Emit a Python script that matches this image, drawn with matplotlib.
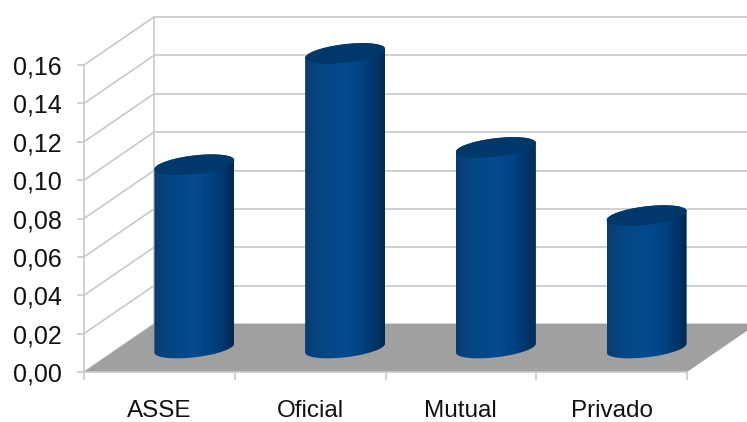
import numpy as np
import matplotlib
matplotlib.use("Agg")
import matplotlib.pyplot as plt
from matplotlib.colors import LinearSegmentedColormap
from matplotlib.patches import Polygon, PathPatch
from matplotlib.path import Path

categories = ["ASSE", "Oficial", "Mutual", "Privado"]
values = [0.0955, 0.1535, 0.1045, 0.069]
y_ticks = [0.00, 0.02, 0.04, 0.06, 0.08, 0.10, 0.12, 0.14, 0.16]

W, H = 747, 422
GRID = "#c9c9c9"
FLOOR = "#a0a0a0"
TOP_COLOR = "#00386c"

plt.rcParams["font.family"] = ["Liberation Sans", "DejaVu Sans"]

fig = plt.figure(figsize=(W / 100, H / 100), dpi=100, facecolor="white")
# front plane of the 3D box: x 84-687 px, y 65-372 px from the top
ax = fig.add_axes([84 / W, 1 - 372 / H, (687 - 84) / W, (372 - 65) / H])
ax.patch.set_visible(False)

px_x = len(categories) / (687 - 84)        # data units per pixel
px_y = y_ticks[-1] / (372 - 65)
depth_x = 70 * px_x
depth_y = 48 * px_y
x_max = len(categories) + depth_x

# back wall and side wall lines
for v in y_ticks:
    ax.plot([depth_x, x_max], [v + depth_y] * 2, color=GRID, lw=1.2, clip_on=False, zorder=1)
    ax.plot([0, depth_x], [v, v + depth_y], color=GRID, lw=1.2, clip_on=False, zorder=1)
ax.plot([depth_x, depth_x], [depth_y, y_ticks[-1] + depth_y], color=GRID, lw=1.2, clip_on=False, zorder=1)

# floor
ax.add_patch(Polygon([(0, 0), (len(categories), 0), (x_max, depth_y), (depth_x, depth_y)],
                     closed=True, fc=FLOOR, ec="none", clip_on=False, zorder=2))

# shading across each cylinder body
shade = LinearSegmentedColormap.from_list(
    "cyl", [(0, "#0b3c72"), (0.12, "#05437e"), (0.48, "#024c90"),
            (0.75, "#004080"), (0.92, "#003163"), (1, "#002850")])
gradient = np.linspace(0, 1, 256).reshape(1, -1)

half_w = 40 * px_x
tilt = 4.5 * px_y
minor = 9.3 * px_y
base = 0.5 * depth_y

for i, v in enumerate(values):
    # cylinders stand halfway into the box depth
    cx = i + 0.5 + 0.5 * depth_x
    top = v + base

    # lower half of the base ellipse, then upper half of the top ellipse
    t_low = np.linspace(np.pi, 2 * np.pi, 60)
    t_up = np.linspace(0, np.pi, 60)
    low = np.column_stack([cx + half_w * np.cos(t_low),
                           base + tilt * np.cos(t_low) + minor * np.sin(t_low)])
    up = np.column_stack([cx + half_w * np.cos(t_up),
                          top + tilt * np.cos(t_up) + minor * np.sin(t_up)])
    body = np.vstack([low, up, low[:1]])
    clip = PathPatch(Path(body), transform=ax.transData, fc="none", ec="none", clip_on=False)
    ax.add_patch(clip)
    im = ax.imshow(gradient, cmap=shade, aspect="auto", zorder=3,
                   extent=[cx - half_w, cx + half_w, base - minor * 2, top + minor * 2])
    # image would otherwise stop at the axes top
    im.set_clip_box(fig.bbox)
    im.set_clip_path(clip)

    t = np.linspace(0, 2 * np.pi, 120)
    cap = np.column_stack([cx + half_w * np.cos(t),
                           top + tilt * np.cos(t) + minor * np.sin(t)])
    ax.add_patch(Polygon(cap, closed=True, fc=TOP_COLOR, ec="none", clip_on=False, zorder=4))

ax.set_xlim(0, len(categories))
ax.set_ylim(0, y_ticks[-1])

for name in ("top", "right"):
    ax.spines[name].set_visible(False)
for name in ("left", "bottom"):
    ax.spines[name].set_color(GRID)
    ax.spines[name].set_linewidth(1.2)
    ax.spines[name].set_zorder(5)

ax.set_yticks(y_ticks)
ax.set_yticklabels([f"{v:.2f}".replace(".", ",") for v in y_ticks])
ax.set_xticks(np.arange(len(categories)) + 0.5)
ax.set_xticklabels(categories)
ax.set_xticks(np.arange(len(categories) + 1), minor=True)
ax.tick_params(axis="y", length=5, width=1.2, color=GRID, pad=11, labelsize=18, labelcolor="#111111")
ax.tick_params(axis="x", which="major", length=0, pad=20, labelsize=17.5, labelcolor="#111111")
ax.tick_params(axis="x", which="minor", length=6, width=1.2, color=GRID)

fig.savefig("out.png", dpi=100, facecolor="white")
